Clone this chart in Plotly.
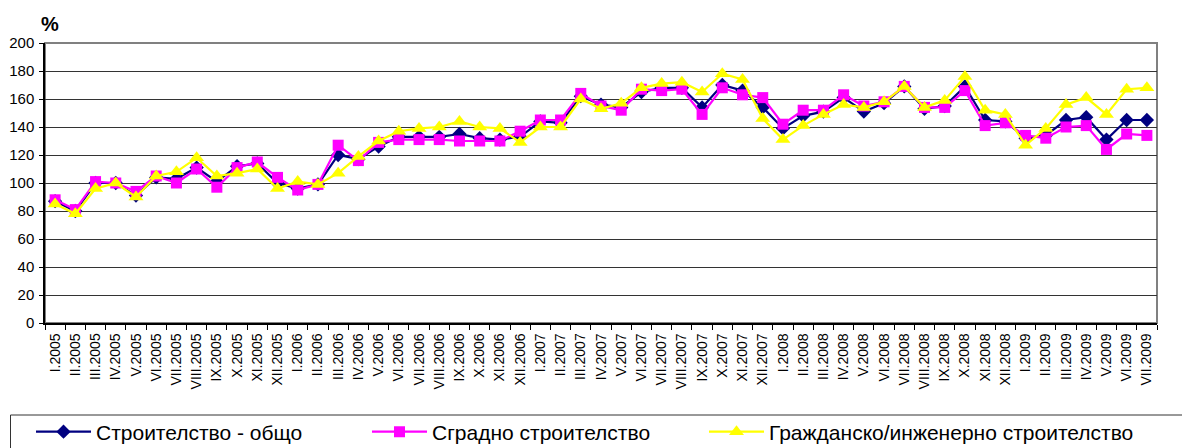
import plotly.graph_objects as go

months = ["I", "II", "III", "IV", "V", "VI", "VII", "VIII", "IX", "X", "XI", "XII"]
categories = [f"{m}.{y}" for y in range(2005, 2010) for m in months][:55]

total = [87, 80, 100, 100, 91, 104, 103, 111, 101, 112, 114, 100, 96, 99,
         120, 117, 126, 133, 133, 133, 135, 132, 131, 133, 144, 143, 162,
         156, 154, 165, 168, 168, 154, 170, 166, 154, 139, 148, 151, 161,
         151, 157, 169, 153, 155, 169, 145, 144, 132, 134, 145, 147, 131,
         145, 145]
building = [88, 81, 101, 100, 94, 105, 100, 110, 97, 111, 115, 104, 95, 99,
            127, 116, 129, 131, 131, 131, 130, 130, 130, 137, 145, 145, 164,
            155, 152, 167, 166, 167, 149, 168, 163, 161, 142, 152, 152, 163,
            155, 158, 169, 154, 154, 166, 141, 143, 134, 132, 140, 141, 124,
            135, 134]
civil = [85, 78, 96, 100, 90, 105, 108, 118, 105, 107, 110, 96, 101, 99,
         107, 119, 130, 137, 139, 140, 144, 140, 139, 129, 140, 140, 160,
         153, 157, 168, 171, 172, 165, 178, 174, 146, 131, 141, 149, 156,
         154, 158, 169, 154, 159, 176, 152, 149, 127, 139, 156, 161, 149,
         167, 168]

series = [
    ("Строителство - общо", total, "#000080", "diamond", 11, "legend"),
    ("Сградно строителство", building, "#FF00FF", "square", 11, "legend2"),
    ("Гражданско/инженерно строителство", civil, "#FFFF00", "triangle-up", 13, "legend3"),
]

fig = go.Figure()
for name, vals, color, sym, size, lg in series:
    fig.add_trace(go.Scatter(
        x=categories, y=vals, name=name, mode="lines+markers",
        line=dict(color=color, width=2.2),
        marker=dict(symbol=sym, size=size, color=color, line=dict(width=0)),
        legend=lg,
    ))

font_family = "Liberation Sans, Arial, sans-serif"

# plot area geometry (pixels) used to place legend items in paper coords
L, R, T, B, W, H = 45, 25, 43, 125, 1182, 448
pw, ph = W - L - R, H - T - B


def px_x(x):
    return (x - L) / pw


def px_y(y):
    return (H - B - y) / ph


legend_common = dict(
    orientation="h", xanchor="left", yanchor="middle", y=px_y(432),
    font=dict(size=21, family=font_family, color="black"),
    borderwidth=0, bgcolor="rgba(0,0,0,0)", itemwidth=55,
)

fig.update_layout(
    width=W, height=H,
    margin=dict(l=L, r=R, t=T, b=B, autoexpand=False),
    paper_bgcolor="white", plot_bgcolor="white",
    font=dict(family=font_family, color="black"),
    showlegend=True,
    legend=dict(legend_common, x=px_x(31)),
    legend2=dict(legend_common, x=px_x(367)),
    legend3=dict(legend_common, x=px_x(704)),
    shapes=[
        dict(type="rect", xref="paper", yref="paper", x0=0, x1=1, y0=0, y1=1,
             line=dict(color="#808080", width=2), layer="below"),
        dict(type="rect", xref="paper", yref="paper",
             x0=px_x(10.5), x1=px_x(1200), y0=px_y(470), y1=px_y(415),
             line=dict(color="#333333", width=1), layer="below"),
    ],
    annotations=[dict(text="<b>%</b>", xref="paper", yref="paper", x=px_x(39), y=px_y(24),
                      xanchor="left", yanchor="middle", showarrow=False,
                      font=dict(size=20, family=font_family, color="black"))],
)

fig.update_xaxes(
    type="category", range=[-0.5, 54.5], tickangle=-90, automargin=False,
    tickfont=dict(size=14, family=font_family, color="black"),
    ticks="outside", tickson="boundaries", ticklen=5, tickcolor="black",
    ticklabelstandoff=3,
    showline=True, linecolor="black", linewidth=1.5, showgrid=False,
)
fig.update_yaxes(
    range=[0, 200], dtick=20, automargin=False,
    tickfont=dict(size=15, family=font_family, color="black"),
    ticks="outside", ticklen=4, tickcolor="black", ticklabelstandoff=2,
    showline=True, linecolor="black", linewidth=1.5,
    showgrid=True, gridcolor="#333333", gridwidth=1, zeroline=False,
)

fig.write_html(
    "out.html",
    config={"displayModeBar": False},
    post_script="document.body.style.margin='0';document.body.style.overflow='hidden';",
)
